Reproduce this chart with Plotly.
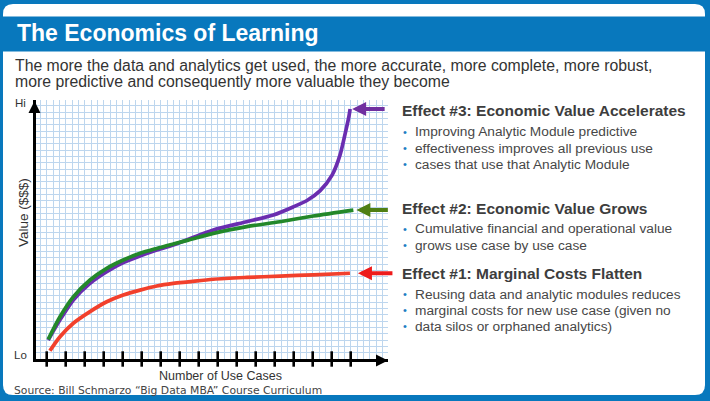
import plotly.graph_objects as go

W, H = 710, 401

# ---------------- data ----------------
use_case_ticks = list(range(1, 18))

accel_x = [1.08, 1.70, 2.40, 3.28, 4.16, 5.03, 5.91, 6.79, 7.66, 9.77, 11.53, 12.93, 13.97, 14.70, 15.38, 16.02, 16.44, 16.75, 16.91, 16.97]
accel_y = [7.3, 15.1, 22.8, 29.2, 33.7, 37.2, 39.8, 42.1, 44.0, 49.8, 53.0, 55.6, 58.7, 61.2, 64.9, 71.0, 78.8, 88.4, 93.8, 96.5]

grow_x = [1.08, 1.70, 2.40, 3.28, 4.16, 5.03, 5.91, 6.79, 7.66, 8.45, 9.77, 11.53, 13.28, 15.03, 17.14]
grow_y = [7.6, 16.3, 24.0, 30.5, 35.0, 38.2, 40.8, 42.7, 44.4, 45.9, 48.5, 51.1, 53.0, 55.2, 57.5]

cost_x = [1.17, 1.70, 2.40, 3.28, 4.16, 5.03, 5.91, 6.79, 7.66, 8.45, 9.77, 11.53, 13.28, 15.03, 16.96]
cost_y = [3.2, 8.6, 13.8, 18.3, 22.1, 24.7, 26.6, 28.2, 29.2, 29.8, 30.8, 31.5, 32.0, 32.5, 33.1]

title = "The Economics of Learning"
subtitle_lines = [
    "The more the data and analytics get used, the more accurate, more complete, more robust,",
    "more predictive and consequently more valuable they become",
]
effects = [
    ("Effect #3: Economic Value Accelerates",
     ["Improving Analytic Module predictive",
      "effectiveness improves all previous use",
      "cases that use that Analytic Module"]),
    ("Effect #2: Economic Value Grows",
     ["Cumulative financial and operational value",
      "grows use case by use case"]),
    ("Effect #1: Marginal Costs Flatten",
     ["Reusing data and analytic modules reduces",
      "marginal costs for new use case (given no",
      "data silos or orphaned analytics)"]),
]
source_text = "Source: Bill Schmarzo \u201cBig Data MBA\u201d Course Curriculum"

# ---------------- styling ----------------
BLUE = "#0878bd"
PURPLE = "#6a2db0"
GREEN = "#23882a"
RED = "#f2402c"
ARROW_PURPLE = "#7030a0"
ARROW_GREEN = "#4f7f14"
ARROW_RED = "#ee1b1b"
TEXT = "#3d3d3d"
SANS = "Liberation Sans, Arial, sans-serif"

def px(p):
    return p / W

def py(p):
    return 1 - p / H

# plot area in pixels
PX0, PX1, PY_BOT, PY_TOP = 36, 388, 359, 100
TICK0_PX, TICK_STEP = 46.7, 19.0

def x_at(p):
    return 1 + (p - TICK0_PX) / TICK_STEP

x_range = [x_at(PX0), x_at(PX1)]
y_range = [0, 100]
y_px_per_unit = (PY_BOT - PY_TOP) / 100.0

fig = go.Figure()

line_w = 3.7
fig.add_trace(go.Scatter(x=cost_x, y=cost_y, mode="lines",
                         line=dict(color=RED, width=line_w, shape="spline", smoothing=0.8)))
fig.add_trace(go.Scatter(x=accel_x, y=accel_y, mode="lines",
                         line=dict(color=PURPLE, width=line_w, shape="spline", smoothing=0.7)))
fig.add_trace(go.Scatter(x=grow_x, y=grow_y, mode="lines",
                         line=dict(color=GREEN, width=line_w, shape="spline", smoothing=0.8)))
# tick marks crossing the x axis
fig.add_trace(go.Scatter(x=use_case_ticks, y=[0] * len(use_case_ticks), mode="markers",
                         cliponaxis=False,
                         marker=dict(symbol="line-ns", size=11,
                                     line=dict(color="black", width=2.6))))

shapes = []

def rounded(x0, y0, x1, y1, r):
    pts = [
        f"M{px(x0 + r)},{py(y0)}", f"L{px(x1 - r)},{py(y0)}",
        f"Q{px(x1)},{py(y0)} {px(x1)},{py(y0 + r)}", f"L{px(x1)},{py(y1 - r)}",
        f"Q{px(x1)},{py(y1)} {px(x1 - r)},{py(y1)}", f"L{px(x0 + r)},{py(y1)}",
        f"Q{px(x0)},{py(y1)} {px(x0)},{py(y1 - r)}", f"L{px(x0)},{py(y0 + r)}",
        f"Q{px(x0)},{py(y0)} {px(x0 + r)},{py(y0)}", "Z",
    ]
    return " ".join(pts)

shapes.append(dict(type="path", xref="paper", yref="paper", layer="below",
                   path=rounded(3, 4, 705, 395, 10), fillcolor="white", line=dict(width=0)))
shapes.append(dict(type="rect", xref="paper", yref="paper", layer="below",
                   x0=0, x1=1, y0=py(51.5), y1=py(16.5), fillcolor=BLUE, line=dict(width=0)))

annotations = []

def text(t, x, y, size, color=TEXT, bold=False, family=SANS, xanchor="left", angle=0):
    annotations.append(dict(
        text=f"<b>{t}</b>" if bold else t, x=px(x), y=py(y), xref="paper", yref="paper",
        xanchor=xanchor, yanchor="middle", showarrow=False, textangle=angle,
        font=dict(size=size, color=color, family=family)))

text(title, 15, 33.5, 23, color="white", bold=True)
text(subtitle_lines[0], 13, 65.5, 15.8, color="#333333")
text(subtitle_lines[1], 13, 81.5, 15.8, color="#333333")

text("Hi", 13, 103, 11.5, color="#333333")
text("Lo", 12, 355, 11.5, color="#333333")
text("Value ($$$)", 23, 213, 13.5, color="#333333", xanchor="center", angle=-90)
text("Number of Use Cases", 221, 376, 12.5, color="#333333", xanchor="center")
text(source_text, 12, 390.5, 10.8, color="#444444", family="DejaVu Sans, Verdana, sans-serif")

heading_y = [111, 208, 273]
for (head, lines), hy in zip(effects, heading_y):
    text(head, 400, hy, 15.5, color=TEXT, bold=True)
    for i, ln in enumerate(lines):
        ly = hy + 21 + i * 16
        text("\u2022", 401, ly, 11, color="#1f7ec4")
        text(ln, 413, ly, 13.7, color="#474747")

# arrows pointing to the ends of the curves
for xs, ys, col, tail, stand in [(accel_x, accel_y, ARROW_PURPLE, 36, 2),
                                 (grow_x, grow_y, ARROW_GREEN, 36, 3),
                                 (cost_x, cost_y, ARROW_RED, 44, 8)]:
    annotations.append(dict(x=xs[-1], y=ys[-1], xref="x", yref="y", text="",
                            showarrow=True, ax=tail, ay=0, axref="pixel", ayref="pixel",
                            arrowhead=2, arrowsize=0.7, arrowwidth=4, arrowcolor=col,
                            standoff=stand))

# axis arrowheads
annotations.append(dict(x=px(34.5), y=py(101), xref="paper", yref="paper", text="",
                        showarrow=True, ax=0, ay=14, arrowhead=2, arrowsize=0.8,
                        arrowwidth=3, arrowcolor="black"))
annotations.append(dict(x=px(388), y=py(360.5), xref="paper", yref="paper", text="",
                        showarrow=True, ax=-14, ay=0, arrowhead=2, arrowsize=0.8,
                        arrowwidth=3, arrowcolor="black"))

GRID = "#bdd6ee"
fig.update_layout(
    width=W, height=H,
    margin=dict(l=0, r=0, t=0, b=0),
    paper_bgcolor=BLUE, plot_bgcolor="white",
    showlegend=False,
    shapes=shapes, annotations=annotations,
    xaxis=dict(domain=[px(PX0), px(PX1)], range=x_range, showgrid=True, gridcolor=GRID,
               gridwidth=1, tick0=1, dtick=1 / 3, showticklabels=False, ticks="",
               zeroline=False, showline=True, linecolor="black", linewidth=3,
               fixedrange=True),
    yaxis=dict(domain=[py(PY_BOT), py(PY_TOP)], range=y_range, showgrid=True, gridcolor=GRID,
               gridwidth=1, tick0=0, dtick=(TICK_STEP / 3) / y_px_per_unit,
               showticklabels=False, ticks="", zeroline=False, showline=True,
               linecolor="black", linewidth=3, fixedrange=True),
)

fig.write_html("out.html", config={"displayModeBar": False},
               post_script="document.body.style.margin='0';document.body.style.overflow='hidden';")
